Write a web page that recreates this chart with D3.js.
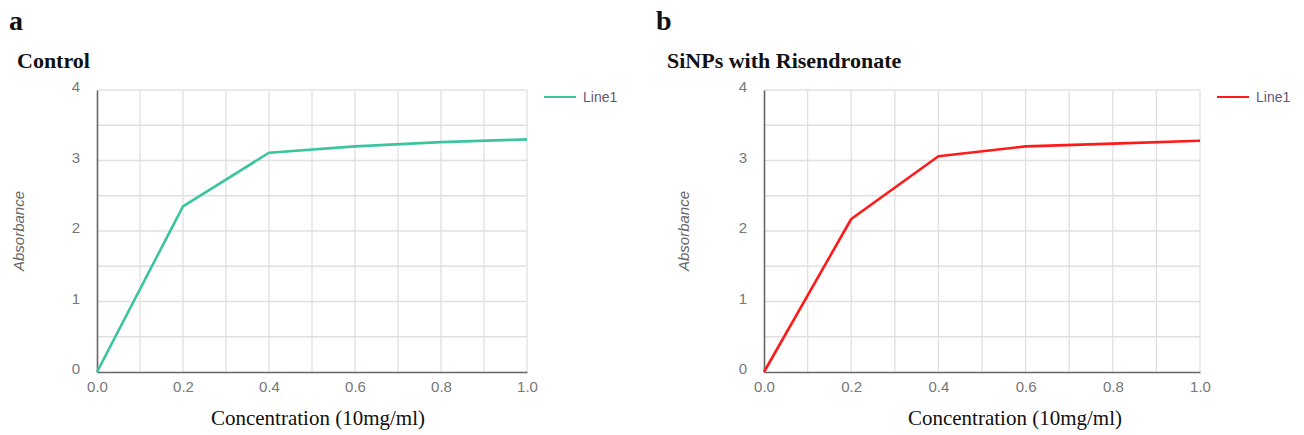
<!DOCTYPE html>
<html>
<head>
<meta charset="utf-8">
<script src="https://cdn.jsdelivr.net/npm/d3@7"></script>
<style>
  body { margin: 0; background: #fff; }
  svg { display: block; }
</style>
</head>
<body>
<svg id="chart" width="1304" height="435"></svg>
<script>
// concentration steps shared by both panels
var concentration = [0.0, 0.2, 0.4, 0.6, 0.8, 1.0];
// absorbance
var controlAbs = [0.0, 2.35, 3.11, 3.20, 3.26, 3.30];
var risendronateAbs = [0.0, 2.17, 3.06, 3.20, 3.24, 3.28];
var xTicks = [0.0, 0.2, 0.4, 0.6, 0.8, 1.0];
var yTicks = [0, 1, 2, 3, 4];

var svg = d3.select('#chart');

function drawPanel(opts) {
  var x = d3.scaleLinear().domain([0, 1]).range([opts.left, opts.right]);
  var y = d3.scaleLinear().domain([0, 4]).range([372, 90]);
  var g = svg.append('g');

  // panel letter + title
  g.append('text').attr('x', opts.letterX).attr('y', 30)
    .attr('font-family', 'Liberation Serif, serif').attr('font-weight', 'bold')
    .attr('font-size', 28).attr('fill', '#111').text(opts.letter);
  g.append('text').attr('x', opts.titleX).attr('y', 68)
    .attr('font-family', 'Liberation Serif, serif').attr('font-weight', 'bold')
    .attr('font-size', 22).attr('fill', '#111').text(opts.title);

  // grid (includes the light top and right border)
  g.append('g').selectAll('line').data(d3.range(1, 11).map(function(i){ return i / 10; }))
    .join('line')
    .attr('x1', function(d){ return x(d); }).attr('x2', function(d){ return x(d); })
    .attr('y1', y(4)).attr('y2', y(0))
    .attr('stroke', '#e0e0e0').attr('stroke-width', 1.3);
  g.append('g').selectAll('line').data(d3.range(1, 9).map(function(i){ return i / 2; }))
    .join('line')
    .attr('x1', x(0)).attr('x2', x(1))
    .attr('y1', function(d){ return y(d); }).attr('y2', function(d){ return y(d); })
    .attr('stroke', '#e0e0e0').attr('stroke-width', 1.3);

  // axes
  var xAxis = d3.axisBottom(x).tickValues(xTicks).tickSize(0).tickPadding(9)
    .tickFormat(d3.format('.1f'));
  var yAxis = d3.axisLeft(y).tickValues(yTicks).tickSize(0).tickPadding(17)
    .tickFormat(d3.format('d'));
  var xa = g.append('g').attr('transform', 'translate(0,' + y(0) + ')').call(xAxis);
  var ya = g.append('g').attr('transform', 'translate(' + x(0) + ',0)').call(yAxis);
  [xa, ya].forEach(function(a){
    a.select('.domain').attr('stroke', '#666').attr('stroke-width', 1.6);
    a.selectAll('text').attr('fill', '#777').attr('font-size', 15)
      .attr('font-family', 'Liberation Sans, Arial, sans-serif');
  });
  ya.selectAll('text').attr('dy', '0.1em');

  // axis titles
  g.append('text')
    .attr('transform', 'translate(' + opts.yTitleX + ',231) rotate(-90)')
    .attr('text-anchor', 'middle').attr('font-style', 'italic')
    .attr('font-family', 'Liberation Sans, Arial, sans-serif')
    .attr('font-size', 15).attr('fill', '#666').text('Absorbance');
  g.append('text')
    .attr('x', (x(0) + x(1)) / 2 + opts.xTitleShift).attr('y', 425)
    .attr('text-anchor', 'middle')
    .attr('font-family', 'Liberation Serif, serif')
    .attr('font-size', 21).attr('fill', '#111').text('Concentration (10mg/ml)');

  // the curve
  var line = d3.line()
    .x(function(d, i){ return x(concentration[i]); })
    .y(function(d){ return y(d); });
  g.append('path').datum(opts.values)
    .attr('d', line).attr('fill', 'none')
    .attr('stroke', opts.color).attr('stroke-width', 2.6)
    .attr('stroke-linejoin', 'round');

  // legend
  var lx = x(1) + 17;
  g.append('line').attr('x1', lx).attr('x2', lx + 32).attr('y1', 97).attr('y2', 97)
    .attr('stroke', opts.color).attr('stroke-width', 2);
  g.append('text').attr('x', lx + 39).attr('y', 102)
    .attr('font-family', 'Liberation Sans, Arial, sans-serif')
    .attr('font-size', 14).attr('fill', '#665577').text('Line1');
}

drawPanel({ left: 97, right: 527, letter: 'a', letterX: 9, title: 'Control', titleX: 17,
  yTitleX: 24, xTitleShift: 6, values: controlAbs, color: '#3cc4a0' });
drawPanel({ left: 764, right: 1200, letter: 'b', letterX: 656, title: 'SiNPs with Risendronate', titleX: 667,
  yTitleX: 689, xTitleShift: 33, values: risendronateAbs, color: '#ff1a1a' });
</script>
</body>
</html>
